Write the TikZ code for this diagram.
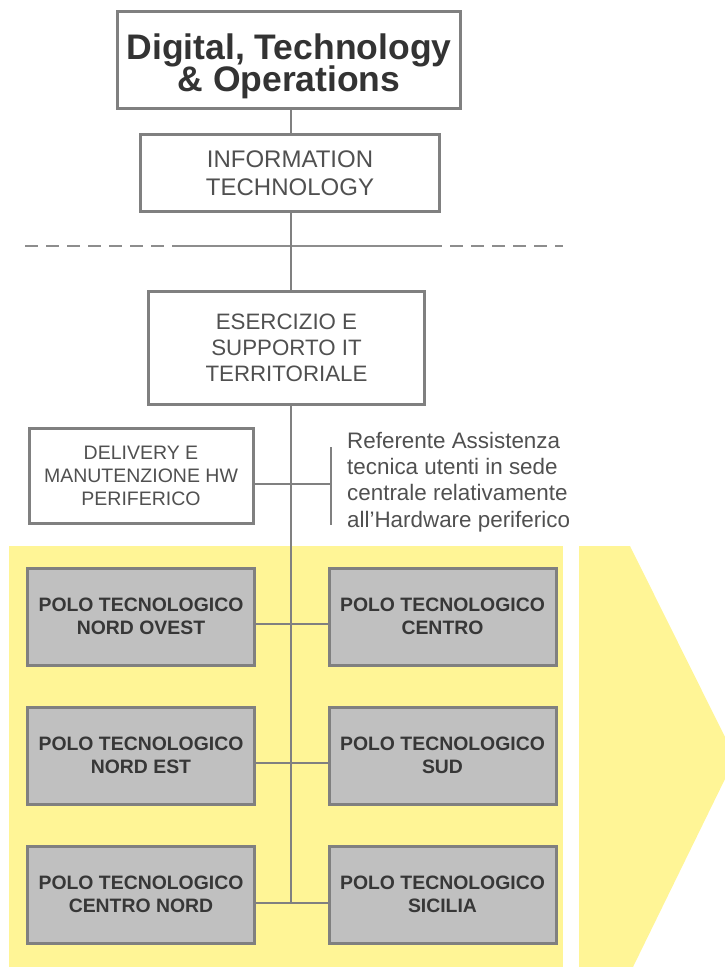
\documentclass[tikz,border=0pt]{standalone}
\usepackage{fontspec}
\setmainfont{Liberation Sans}
\definecolor{boxgray}{RGB}{128,128,128}
\definecolor{polofill}{RGB}{192,192,192}
\definecolor{panel}{RGB}{255,245,150}
\definecolor{txtgray}{RGB}{80,80,80}
\definecolor{txtdark}{RGB}{55,55,55}
\begin{document}
\begin{tikzpicture}[x=1pt,y=-1pt,
    main/.style={draw=boxgray,line width=3pt,fill=white,align=center,inner sep=0pt,text=txtgray},
    polo/.style={main,fill=polofill,minimum width=227pt,minimum height=97pt,
        font=\fontsize{19.4}{23}\selectfont\bfseries,text=txtdark},
    conn/.style={draw=boxgray,line width=2pt},
    sep/.style={draw=boxgray!90,line width=2.5pt}]
    \useasboundingbox (0,0) rectangle (725,967);
    % yellow panel and chevron
    \fill[panel] (9,546) rectangle (563,967);
    \fill[panel] (579,546) -- (630,546) -- (725,737) -- (725,779) -- (633,967) -- (579,967) -- cycle;
    \coordinate (v) at (290.5,0);
    % boxes
    \node[main,minimum width=343pt,minimum height=97pt,text=black!80,
        font=\fontsize{35.5}{31}\selectfont\bfseries](top) at (289,60){\raisebox{-6pt}[\height][\depth]{\parbox{330pt}{\centering Digital, Technology\\[-2pt]\& Operations}}};
    \node[main,minimum width=299pt,minimum height=77pt,
        font=\fontsize{24}{28}\selectfont](it) at (290,173){INFORMATION\\TECHNOLOGY};
    \node[main,minimum width=276pt,minimum height=113pt,
        font=\fontsize{22.3}{26}\selectfont](es) at (286.5,347.5){ESERCIZIO E\\SUPPORTO IT\\TERRITORIALE};
    \node[main,minimum width=224pt,minimum height=95pt,
        font=\fontsize{19.5}{23}\selectfont](del) at (141,475.5){DELIVERY E\\MANUTENZIONE HW\\PERIFERICO};
    \node[align=left,anchor=west,inner sep=0pt,text=txtgray,
        font=\fontsize{22.4}{26.3}\selectfont](ref) at (347,482){Referente Assistenza\\tecnica utenti in sede\\centrale relativamente\\all’Hardware periferico};
    \coordinate (bar) at (331,484);
    % poli
    \node[polo](pno) at (141,616.5){POLO TECNOLOGICO\\NORD OVEST};
    \node[polo](pc) at (442.5,616.5){POLO TECNOLOGICO\\CENTRO};
    \node[polo](pne) at (141,755.5){POLO TECNOLOGICO\\NORD EST};
    \node[polo](ps) at (442.5,755.5){POLO TECNOLOGICO\\SUD};
    \node[polo](pcn) at (141,894.5){POLO TECNOLOGICO\\CENTRO NORD};
    \node[polo](psi) at (442.5,894.5){POLO TECNOLOGICO\\SICILIA};
    % separator
    \draw[sep,dash pattern=on 13pt off 8pt] (25,246) -- (176,246);
    \draw[sep] (176,246) -- (429,246);
    \draw[sep,dash pattern=on 13pt off 8pt] (429,246) -- (563,246);
    % connectors
    \draw[conn](top.south -| v) -- (it.north -| v);
    \draw[conn](it.south -| v) -- (es.north -| v);
    \draw[conn](es.south -| v) -- ([yshift=-8pt]pcn.east -| v);
    \draw[conn](bar -| del.east) -- (bar);
    \draw[conn](331,447) -- (331,525);
    \draw[conn]([yshift=-7pt]pno.east) -- ([yshift=-7pt]pc.west);
    \draw[conn]([yshift=-7pt]pne.east) -- ([yshift=-7pt]ps.west);
    \draw[conn]([yshift=-8pt]pcn.east) -- ([yshift=-8pt]psi.west);
\end{tikzpicture}
\end{document}
